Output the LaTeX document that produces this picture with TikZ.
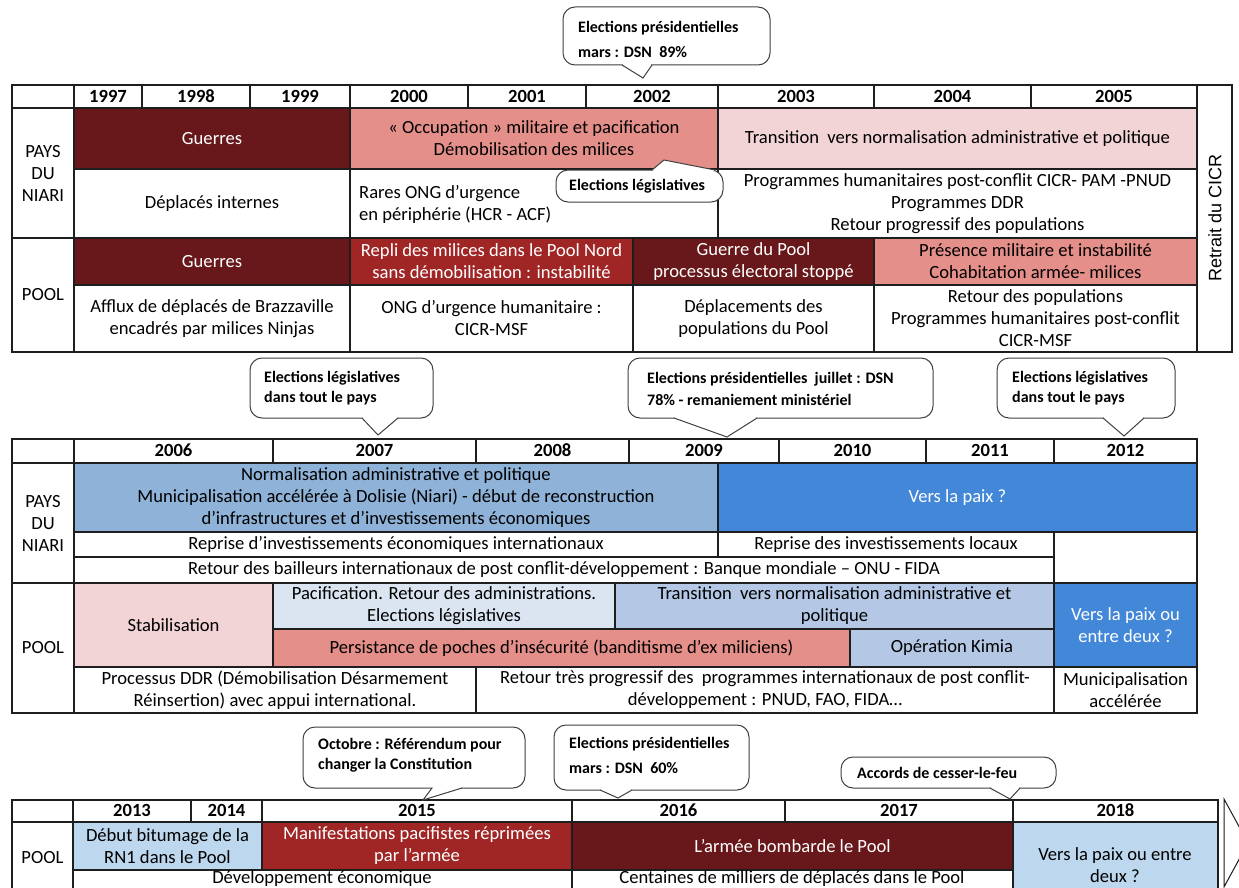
\documentclass[tikz,border=0pt]{standalone}
\usepackage{fontspec}
\setmainfont{Carlito}
\newfontfamily\arialf{Liberation Sans}
\usetikzlibrary{calc}
\definecolor{maroonc}{RGB}{104,24,26}
\definecolor{redc}{RGB}{160,38,38}
\definecolor{salmonc}{RGB}{229,143,138}
\definecolor{pinkc}{RGB}{242,211,214}
\definecolor{steelc}{RGB}{143,178,216}
\definecolor{brightc}{RGB}{66,135,216}
\definecolor{palebc}{RGB}{219,229,242}
\definecolor{lightbc}{RGB}{180,200,230}
\definecolor{skybc}{RGB}{189,215,238}
\definecolor{linec}{RGB}{30,30,30}
\newcommand\cellfnt{\fontsize{18.6}{22}\selectfont}
\newcommand\bubfnt[1]{\fontsize{16}{#1}\selectfont\bfseries}
\newcommand\tcell[7]{\node[cellbase,#6,minimum width={(#4-#2)*1pt},minimum height={(#5-#3)*1pt}] (#1) at ({(#2+#4)/2},{(#3+#5)/2}) {#7};}
\newcommand\bubble[9]{%
  \draw[bubstyle] (#1,#2) rectangle (#3,#4);
  \fill[white] (#5,#7) -- (#8,#9) -- (#6,#7) -- cycle;
  \fill[white] ({#5+1},{#7-1.5}) rectangle ({#6-1},{#7+1.5});
  \draw[bubline] (#5,#7) -- (#8,#9) -- (#6,#7);
}
\tikzset{
  cellbase/.style={draw=linec,line width=1.2pt,inner sep=0pt,align=center,font=\cellfnt,text=black},
  hdr/.style={font=\cellfnt\bfseries,text height=11.8pt,text depth=0pt},
  wtxt/.style={text=white},
  txt/.style={inner sep=0pt,font=\cellfnt,text=black},
  bubstyle/.style={draw=linec!85,line width=1pt,fill=white,rounded corners=12pt},
  bubline/.style={draw=linec!85,line width=1pt,line join=miter},
  bubtext/.style={inner sep=0pt,anchor=west,align=left,text=black},
}
\begin{document}
\begin{tikzpicture}[x=1pt,y=-1pt]
\useasboundingbox (0,0) rectangle (1239,888);
\clip (0,0) rectangle (1239,888);
\fill[white] (0,0) rectangle (1239,888);

% ---------------- Table 1 ----------------
\tcell{h0}{12}{85}{74}{108}{}{}
\tcell{h97}{74}{85}{142}{108}{hdr}{1997}
\tcell{h98}{142}{85}{250}{108}{hdr}{1998}
\tcell{h99}{250}{85}{350}{108}{hdr}{1999}
\tcell{h00}{350}{85}{468}{108}{hdr}{2000}
\tcell{h01}{468}{85}{586}{108}{hdr}{2001}
\tcell{h02}{586}{85}{718}{108}{hdr}{2002}
\tcell{h03}{718}{85}{874}{108}{hdr}{2003}
\tcell{h04}{874}{85}{1031}{108}{hdr}{2004}
\tcell{h05}{1031}{85}{1197}{108}{hdr}{2005}
\tcell{ret}{1197}{85}{1232}{352}{}{}
\node[rotate=90,inner sep=0pt,font=\arialf\fontsize{18}{22}\selectfont] (rettxt) at (1215,218) {Retrait du CICR};

\tcell{niari1}{12}{108}{74}{238}{}{PAYS\\DU\\NIARI}
\tcell{pool1}{12}{238}{74}{352}{}{POOL}
\tcell{a1}{74}{108}{350}{169}{fill=maroonc,wtxt}{Guerres}
\tcell{a2}{350}{108}{718}{169}{fill=salmonc}{« Occupation » militaire et pacification\\Démobilisation des milices}
\tcell{a3}{718}{108}{1197}{169}{fill=pinkc}{Transition\ \ vers normalisation administrative et politique}
\tcell{b1}{74}{169}{350}{238}{}{Déplacés internes}
\tcell{b2}{350}{169}{718}{238}{}{}
\node[txt,align=left,anchor=west] (b2t) at (359,204) {Rares ONG d’urgence\\en périphérie (HCR - ACF)};
\tcell{b3}{718}{169}{1197}{238}{}{Programmes humanitaires post-conflit CICR- PAM -PNUD\\Programmes DDR\\Retour progressif des populations}
\tcell{c1}{74}{238}{350}{285}{fill=maroonc,wtxt}{Guerres}
\tcell{c2}{350}{238}{633}{285}{fill=redc,wtxt}{Repli des milices dans le Pool Nord\\sans démobilisation : instabilité}
\tcell{c3}{633}{238}{874}{285}{fill=maroonc,wtxt}{Guerre du Pool\\processus électoral stoppé}
\tcell{c4}{874}{238}{1197}{285}{fill=salmonc}{Présence militaire et instabilité\\Cohabitation armée- milices}
\tcell{d1}{74}{285}{350}{352}{}{Afflux de déplacés de Brazzaville\\encadrés par milices Ninjas}
\tcell{d2}{350}{285}{633}{352}{}{ONG d’urgence humanitaire :\\CICR-MSF}
\tcell{d3}{633}{285}{874}{352}{}{Déplacements des\\populations du Pool}
\tcell{d4}{874}{285}{1197}{352}{}{Retour des populations\\Programmes humanitaires post-conflit\\CICR-MSF}

% callouts table 1
\bubble{563}{7}{770}{65}{622}{652}{65}{643}{78}
\node[bubtext,font={\bubfnt{25}}] (k1) at (578,39.5) {Elections présidentielles\\mars : DSN\ \ 89\%};
\bubble{556}{170}{723}{202}{652}{715}{170}{664}{160}
\node[bubtext,font={\bubfnt{20}}] (k2) at (569,186) {Elections législatives};

% ---------------- Table 2 ----------------
\tcell{i0}{12}{439}{74}{463}{}{}
\tcell{i06}{74}{439}{273}{463}{hdr}{2006}
\tcell{i07}{273}{439}{476}{463}{hdr}{2007}
\tcell{i08}{476}{439}{629}{463}{hdr}{2008}
\tcell{i09}{629}{439}{779}{463}{hdr}{2009}
\tcell{i10}{779}{439}{926}{463}{hdr}{2010}
\tcell{i11}{926}{439}{1054}{463}{hdr}{2011}
\tcell{i12}{1054}{439}{1197}{463}{hdr}{2012}

\tcell{niari2}{12}{463}{74}{583}{}{PAYS\\DU\\NIARI}
\tcell{pool2}{12}{583}{74}{713}{}{POOL}
\tcell{e1}{74}{463}{718}{532}{fill=steelc}{Normalisation administrative et politique\\Municipalisation accélérée à Dolisie (Niari) - début de reconstruction\\d’infrastructures et d’investissements économiques}
\tcell{e2}{718}{463}{1197}{532}{fill=brightc,wtxt}{Vers la paix ?}
\tcell{f1}{74}{532}{718}{557}{}{Reprise d’investissements économiques internationaux}
\tcell{f2}{718}{532}{1054}{557}{}{Reprise des investissements locaux}
\tcell{f3}{1054}{532}{1197}{583}{}{}
\tcell{g1}{74}{557}{1054}{583}{}{Retour des bailleurs internationaux de post conflit-développement : Banque mondiale – ONU - FIDA}
\tcell{p1}{74}{583}{273}{667}{fill=pinkc}{Stabilisation}
\tcell{p2}{273}{583}{615}{629}{fill=palebc}{Pacification. Retour des administrations.\\Elections législatives}
\tcell{p3}{615}{583}{1054}{629}{fill=lightbc}{Transition\ \ vers normalisation administrative et\\politique}
\tcell{p4}{273}{629}{850}{667}{fill=salmonc}{Persistance de poches d’insécurité (banditisme d’ex miliciens)}
\tcell{p5}{850}{629}{1054}{667}{fill=lightbc}{Opération Kimia}
\tcell{p6}{1054}{583}{1197}{667}{fill=brightc,wtxt}{Vers la paix ou\\entre deux ?}
\tcell{q1}{74}{667}{476}{713}{}{Processus DDR (Démobilisation Désarmement\\Réinsertion) avec appui international.}
\tcell{q2}{476}{667}{1054}{713}{}{Retour très progressif des\ \ programmes internationaux de post conflit-\\développement : PNUD, FAO, FIDA…}
\tcell{q3}{1054}{667}{1197}{713}{}{Municipalisation\\accélérée}

% callouts table 2
\bubble{250}{358}{433}{418}{362}{398}{418}{378}{435}
\node[bubtext,font={\bubfnt{20}}] (k3) at (264,388) {Elections législatives\\dans tout le pays};
\bubble{628}{358}{933}{418}{674}{757}{418}{727}{437}
\node[bubtext,font={\bubfnt{22}}] (k4) at (647,389) {Elections présidentielles\ \ juillet : DSN\\78\% - remaniement ministériel};
\bubble{997}{358}{1175}{418}{1103}{1144}{418}{1124}{436}
\node[bubtext,font={\bubfnt{20}}] (k5) at (1012,388) {Elections législatives\\dans tout le pays};

% ---------------- Table 3 ----------------
\tcell{j0}{12}{800}{73}{822}{}{}
\tcell{j13}{73}{800}{191}{822}{hdr}{2013}
\tcell{j14}{191}{800}{262}{822}{hdr}{2014}
\tcell{j15}{262}{800}{572}{822}{hdr}{2015}
\tcell{j16}{572}{800}{785}{822}{hdr}{2016}
\tcell{j17}{785}{800}{1013}{822}{hdr}{2017}
\tcell{j18}{1013}{800}{1218}{822}{hdr}{2018}
\tcell{pool3}{12}{822}{73}{894}{}{POOL}
\tcell{r1}{73}{822}{262}{870}{fill=skybc}{Début bitumage de la\\RN1 dans le Pool}
\tcell{r2}{262}{822}{572}{870}{fill=redc,wtxt}{Manifestations pacifistes réprimées\\par l’armée}
\tcell{r3}{572}{822}{1013}{870}{fill=maroonc,wtxt}{L’armée bombarde le Pool}
\tcell{r4}{1013}{822}{1218}{916}{fill=skybc}{}
\node[txt,align=center] (r4t) at (1115,865) {Vers la paix ou entre\\deux ?};
\tcell{s1}{73}{870}{572}{894}{}{}
\tcell{s2}{572}{870}{1013}{894}{}{}
\node[txt] (s1t) at (322,878.5) {Développement économique};
\node[txt] (s2t) at (792,878.5) {Centaines de milliers de déplacés dans le Pool};
\coordinate (arrA) at (1224,799);
\coordinate (arrB) at (1248,843);
\coordinate (arrC) at (1224,887);
\draw[linec,line width=1pt,fill=white] (arrA) -- (arrB) -- (arrC) -- cycle;

% callouts table 3
\bubble{303}{727}{525}{788}{432}{462}{788}{423}{800}
\node[bubtext,font={\bubfnt{20}}] (k6) at (318,755) {Octobre : Référendum pour\\changer la Constitution};
\bubble{554}{725}{749}{790}{600}{632}{790}{618}{798}
\node[bubtext,font={\bubfnt{25}}] (k7) at (569,755.5) {Elections présidentielles\\mars : DSN\ \ 60\%};
\bubble{841}{757}{1056}{788}{990}{1020}{788}{1010}{799}
\node[bubtext,font={\bubfnt{20}}] (k8) at (857,773) {Accords de cesser-le-feu};
\end{tikzpicture}
\end{document}
